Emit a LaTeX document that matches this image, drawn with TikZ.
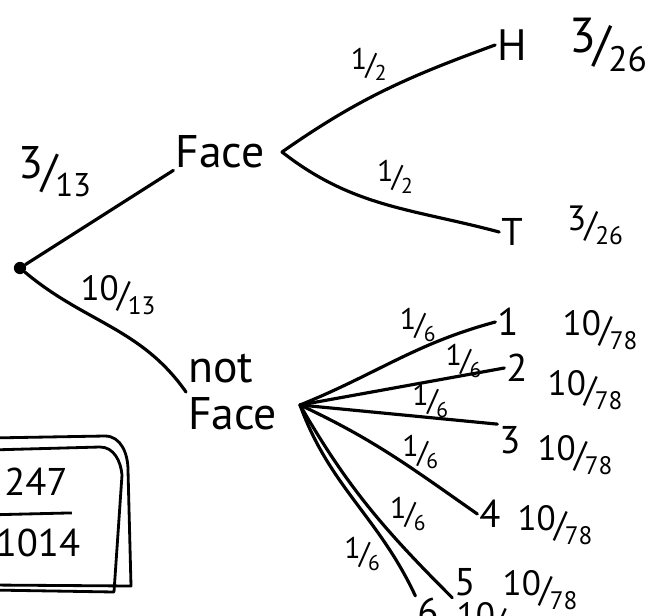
\documentclass[tikz,border=0pt]{standalone}
\usepackage{fontspec}
\setmainfont{PT Sans}
\usetikzlibrary{positioning}

% handwritten-style slash fraction: big numerator, small lowered denominator
\newcommand{\pfrac}[2]{\raisebox{0.35ex}{#1}\kern-0.05em/\kern-0.05em\raisebox{-0.45ex}{\scalebox{0.72}{#2}}}

\begin{document}
\begin{tikzpicture}[x=0.02cm, y=0.02cm,
    branch/.style={line width=1.8pt, line cap=round},
    word/.style={font=\fontsize{26}{27}\selectfont, inner sep=1pt, align=left},
    leaf/.style={font=\fontsize{22}{24}\selectfont, inner sep=1pt},
    prob/.style={font=\fontsize{17}{19}\selectfont, inner sep=1pt},
    total/.style={font=\fontsize{20}{22}\selectfont, inner sep=1pt},
    boxline/.style={line width=1.6pt, line join=round}]
\useasboundingbox (0,-616) rectangle (657,0);
\clip (0,-616) rectangle (657,0);

% first stage
\node (root) [circle, fill, inner sep=0pt, minimum size=7pt] at (20,-268) {};
\node (face) [word] at (220,-152) {Face};
\node (notface) [word, anchor=west] at (186,-392) {not\\Face};
\coordinate (facefork) at (282,-152);
\coordinate (nffork) at (300,-405);

\node (p13) [total, font=\fontsize{26}{28}\selectfont] at (55,-172) {\pfrac{3}{13}};
\node (p1013) [total] at (118,-295) {\pfrac{10}{13}};
\draw[branch] (root) -- (face.south west);
\draw[branch] (root) to[out=-40, in=125] (notface.west);

% face -> coin
\node (H) [leaf, font=\fontsize{25}{27}\selectfont] at (512,-45) {H};
\node (T) [leaf] at (512,-232) {T};
\node (tH) [total, font=\fontsize{28}{30}\selectfont] at (608,-45) {\pfrac{3}{26}};
\node (tT) [total] at (595,-225) {\pfrac{3}{26}};
\draw[branch] (facefork) to[out=35, in=200] node[prob, pos=.42, above=8pt] {\pfrac{1}{2}} (H.west);
\draw[branch] (facefork) to[out=-38, in=165] node[prob, pos=.55, above=6pt] {\pfrac{1}{2}} (T.west);

% not face -> die
\node (d1) [leaf] at (508,-322) {1};
\node (d2) [leaf] at (517,-368) {2};
\node (d3) [leaf] at (510,-440) {3};
\node (d4) [leaf] at (490,-514) {4};
\node (d5) [leaf] at (465,-582) {5};
\node (d6) [leaf] at (428,-612) {6};
\node (t1) [total] at (600,-330) {\pfrac{10}{78}};
\node (t2) [total] at (585,-390) {\pfrac{10}{78}};
\node (t3) [total] at (575,-455) {\pfrac{10}{78}};
\node (t4) [total] at (555,-525) {\pfrac{10}{78}};
\node (t5) [total] at (540,-590) {\pfrac{10}{78}};
\node (t6) [total] at (494,-622) {\pfrac{10}{78}};
\draw[branch] (nffork) to[out=22, in=195] node[prob, pos=.62, above=3pt] {\pfrac{1}{6}} (d1.west);
\draw[branch] (nffork) -- node[prob, pos=.8, above=-3pt] {\pfrac{1}{6}} (d2.west);
\draw[branch] (nffork) -- node[prob, pos=.66, above=-2pt] {\pfrac{1}{6}} (d3.north west);
\draw[branch] (nffork) to[out=-25, in=145] node[prob, pos=.68, above=1pt] {\pfrac{1}{6}} (d4.west);
\draw[branch] (nffork) to[out=-60, in=135] node[prob, pos=.64, above right=-2pt] {\pfrac{1}{6}} (d5.south west);
\draw[branch] (nffork) to[out=-70, in=115] node[prob, pos=.8, left=5pt] {\pfrac{1}{6}} (d6.north west);

% answer box
\draw[boxline] (-10,-438) -- (105,-436) to[out=0, in=90] (128,-470) -- (131,-586) -- (-10,-585);
\draw[boxline] (-10,-450) -- (100,-447) to[out=0, in=95] (122,-475) -- (114,-592) -- (-10,-590);
\node (num) [total, font=\fontsize{22}{24}\selectfont] at (36,-482) {247};
\node (den) [total, font=\fontsize{22}{24}\selectfont] at (38,-543) {1014};
\draw[line width=1.6pt] (den.north west) ++(-6,12) -- ++(84,2);
\end{tikzpicture}
\end{document}
